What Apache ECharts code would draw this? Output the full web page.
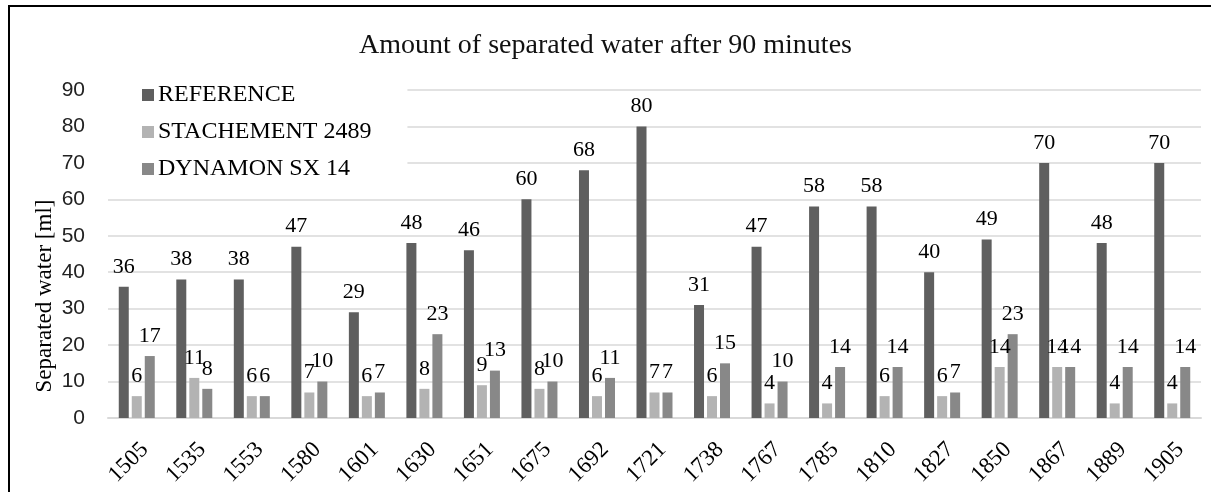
<!DOCTYPE html>
<html>
<head>
<meta charset="utf-8">
<script src="https://cdn.jsdelivr.net/npm/echarts@6/dist/echarts.min.js"></script>
<style>
html,body{margin:0;padding:0;background:#fff;}
#chart{width:1211px;height:492px;}
</style>
</head>
<body>
<div id="chart"></div>
<script>
const titleText = 'Amount of separated water after 90 minutes';
const yAxisTitle = 'Separated water [ml]';
const categories = ['1505','1535','1553','1580','1601','1630','1651','1675','1692','1721','1738','1767','1785','1810','1827','1850','1867','1889','1905'];
const seriesNames = ['REFERENCE','STACHEMENT 2489','DYNAMON SX 14'];
const reference = [36,38,38,47,29,48,46,60,68,80,31,47,58,58,40,49,70,48,70];
const stachement = [6,11,6,7,6,8,9,8,6,7,6,4,4,6,6,14,14,4,4];
const dynamon = [17,8,6,10,7,23,13,10,11,7,15,10,14,14,7,23,14,14,14];
const yTicks = [0,10,20,30,40,50,60,70,80,90];

const serif = "'Liberation Serif','Times New Roman',serif";
const sans = "'Liberation Sans',Arial,sans-serif";
const colors = ['#5f5f5f','#b3b3b3','#888888'];

function barSeries(name, data, color){
  return {
    name: name, type: 'bar', data: data, barWidth: 10, barGap: '30%',
    itemStyle: {color: color},
    label: {show: true, position: 'top', distance: 9, color: '#000', fontFamily: serif, fontSize: 22},
    z: 2
  };
}

const chart = echarts.init(document.getElementById('chart'), null, {renderer: 'canvas'});
chart.setOption({
  animation: false,
  backgroundColor: '#fff',
  title: {
    text: titleText, left: 'center', top: 32, padding: 0,
    textStyle: {fontFamily: serif, fontSize: 28, fontWeight: 'normal', color: '#111'}
  },
  legend: {
    data: seriesNames, orient: 'vertical', left: 108, top: 75,
    padding: [8, 36, 10, 34], itemGap: 13, itemWidth: 12, itemHeight: 12,
    backgroundColor: '#fff', icon: 'rect',
    textStyle: {fontFamily: serif, fontSize: 24, color: '#000', lineHeight: 24, padding: [0,0,0,-1]},
    z: 5
  },
  grid: {left: 108, right: 10, top: 90, bottom: 74, containLabel: false},
  xAxis: {
    type: 'category', data: categories,
    axisTick: {show: false},
    axisLine: {lineStyle: {color: '#d9d9d9', width: 2}},
    axisLabel: {rotate: 45, interval: 0, margin: 20, verticalAlign: 'top', fontFamily: serif, fontSize: 23, color: '#000'}
  },
  yAxis: {
    type: 'value', min: yTicks[0], max: yTicks[yTicks.length-1], interval: 10,
    axisLine: {show: false}, axisTick: {show: false},
    splitLine: {lineStyle: {color: '#d9d9d9', width: 1.5}},
    axisLabel: {margin: 23, fontFamily: sans, fontSize: 21, color: '#222'}
  },
  graphic: [
    {type: 'rect', shape: {x: 1204, y: 0, width: 7, height: 492}, style: {fill: '#fff'}, silent: true, z: 9},
    {type: 'line', shape: {x1: 8, y1: 6, x2: 1211, y2: 6}, style: {stroke: '#000', lineWidth: 2}, silent: true, z: 10},
    {type: 'line', shape: {x1: 9, y1: 5, x2: 9, y2: 492}, style: {stroke: '#000', lineWidth: 2}, silent: true, z: 10},
    {type: 'text', x: 45, y: 296, rotation: Math.PI/2,
     style: {text: yAxisTitle, fontFamily: serif, fontSize: 23, fill: '#000', align: 'center', verticalAlign: 'middle'}}
  ],
  series: [
    barSeries(seriesNames[0], reference, colors[0]),
    barSeries(seriesNames[1], stachement, colors[1]),
    barSeries(seriesNames[2], dynamon, colors[2])
  ]
});
</script>
</body>
</html>
